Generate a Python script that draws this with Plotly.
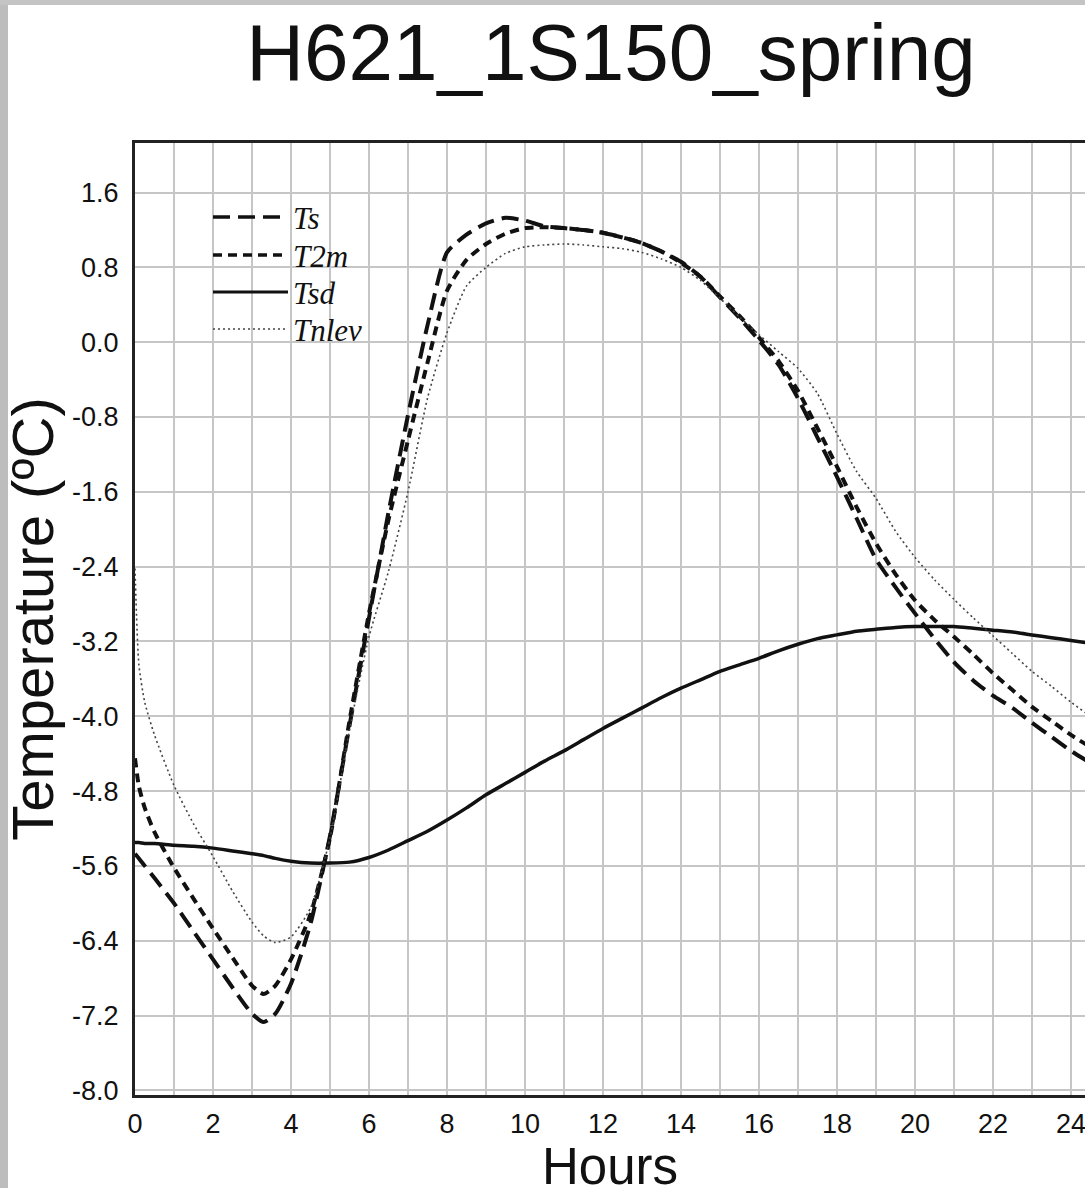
import plotly.graph_objects as go

# Hour of day for every sample
hours = [0, 0.1, 0.25, 0.5, 1, 1.5, 2, 2.5, 3, 3.3, 3.6, 4, 4.5, 5, 5.5, 6, 6.5, 7, 7.5, 8,
         8.5, 9, 9.5, 10, 10.5, 11, 11.5, 12, 12.5, 13, 13.5, 14, 14.5, 15, 15.5, 16, 16.5,
         17, 17.5, 18, 18.5, 19, 19.5, 20, 20.5, 21, 21.5, 22, 22.5, 23, 23.5, 24, 24.5]

# Surface temperature (degC)
ts = [-5.47, -5.52, -5.60, -5.73, -6.00, -6.30, -6.60, -6.90, -7.18, -7.27, -7.18, -6.86,
      -6.22, -5.28, -4.10, -2.95, -1.82, -0.78, 0.18, 0.96, 1.15, 1.27, 1.33, 1.30, 1.24,
      1.22, 1.20, 1.17, 1.12, 1.06, 0.97, 0.86, 0.70, 0.48, 0.26, 0.02, -0.24, -0.60, -1.02,
      -1.44, -1.88, -2.32, -2.62, -2.90, -3.17, -3.42, -3.62, -3.78, -3.91, -4.07, -4.22,
      -4.37, -4.50]

# 2 m air temperature (degC)
t2m = [-4.45, -4.75, -4.98, -5.24, -5.62, -5.95, -6.27, -6.58, -6.88, -6.97, -6.88, -6.60,
       -6.12, -5.30, -4.05, -2.90, -1.90, -1.05, -0.22, 0.55, 0.88, 1.05, 1.16, 1.22, 1.23,
       1.22, 1.20, 1.17, 1.12, 1.06, 0.97, 0.85, 0.70, 0.49, 0.28, 0.05, -0.20, -0.52, -0.92,
       -1.33, -1.76, -2.15, -2.48, -2.76, -2.97, -3.15, -3.34, -3.54, -3.72, -3.90, -4.05,
       -4.20, -4.33]

# Deep soil temperature (degC)
tsd = [-5.35, -5.35, -5.36, -5.36, -5.38, -5.39, -5.41, -5.44, -5.47, -5.49, -5.52, -5.55,
       -5.57, -5.57, -5.56, -5.51, -5.43, -5.33, -5.23, -5.11, -4.98, -4.84, -4.72, -4.60,
       -4.48, -4.37, -4.25, -4.13, -4.02, -3.91, -3.80, -3.70, -3.61, -3.52, -3.45, -3.38,
       -3.30, -3.23, -3.17, -3.13, -3.09, -3.07, -3.05, -3.04, -3.04, -3.04, -3.06, -3.08,
       -3.10, -3.13, -3.16, -3.19, -3.22]

# Lowest model level temperature (degC)
tnlev = [-2.42, -3.45, -3.85, -4.20, -4.74, -5.15, -5.50, -5.87, -6.20, -6.35, -6.42, -6.36,
         -6.05, -5.30, -4.15, -3.15, -2.45, -1.60, -0.60, 0.10, 0.60, 0.80, 0.95, 1.02, 1.04,
         1.05, 1.04, 1.02, 1.00, 0.96, 0.89, 0.80, 0.66, 0.47, 0.27, 0.08, -0.10, -0.28, -0.55,
         -0.98, -1.38, -1.67, -2.02, -2.30, -2.54, -2.75, -2.95, -3.14, -3.33, -3.52, -3.68,
         -3.85, -4.00]

x_ticks = list(range(0, 25, 2))
y_ticks = [-8.0, -7.2, -6.4, -5.6, -4.8, -4.0, -3.2, -2.4, -1.6, -0.8, 0.0, 0.8, 1.6]
y_tick_labels = [f"{v:.1f}" for v in y_ticks]

series = [
    ("Ts", ts, dict(color="#111111", width=4, dash="17px,8px")),
    ("T2m", t2m, dict(color="#111111", width=4, dash="9px,6px")),
    ("Tsd", tsd, dict(color="#111111", width=3.5)),
    ("Tnlev", tnlev, dict(color="#444444", width=1.6, dash="2px,3px")),
]

W, H = 1085, 1188
L, R, T, B = 135, 0, 143, 93
PW, PH = W - L - R, H - T - B


def px_x(px):
    return (px - L) / PW


def px_y(py):
    return (H - B - py) / PH


fig = go.Figure()
for name, vals, style in series:
    fig.add_trace(go.Scatter(
        x=hours, y=vals, name=name, mode="lines",
        line=dict(shape="spline", smoothing=0.6, **style),
        showlegend=False,
    ))

# Hand-drawn legend with long line samples
shapes = []
annotations = []
legend_rows = [217, 255, 292, 329]
for (name, _, style), row in zip(series, legend_rows):
    shapes.append(dict(
        type="line", xref="paper", yref="paper",
        x0=px_x(213), x1=px_x(288), y0=px_y(row), y1=px_y(row),
        line=dict(color=style["color"], width=style["width"] * 0.85,
                  dash=style.get("dash", "solid")),
    ))
    annotations.append(dict(
        xref="paper", yref="paper", x=px_x(291), y=px_y(row + 1),
        xanchor="left", yanchor="middle", showarrow=False,
        text=f"<i>{name}</i>",
        font=dict(family="Liberation Serif, Times New Roman, serif", size=31, color="#111111"),
    ))

# x-axis title, sitting low against the bottom edge of the page
annotations.append(dict(
    xref="paper", yref="paper", x=0.5, y=px_y(1166),
    xanchor="center", yanchor="middle", showarrow=False,
    text="Hours", font=dict(size=51, color="#111111"),
))

# Grey page edge along the left and top borders
shapes.append(dict(type="rect", xref="paper", yref="paper", layer="below",
                   x0=px_x(0), x1=px_x(8), y0=px_y(H), y1=px_y(0),
                   fillcolor="#bdbdbd", line=dict(width=0)))
shapes.append(dict(type="rect", xref="paper", yref="paper", layer="below",
                   x0=px_x(0), x1=px_x(W), y0=px_y(5), y1=px_y(0),
                   fillcolor="#c4c4c4", line=dict(width=0)))

grid = "#c6c6c6"
fig.update_layout(
    width=W, height=H,
    margin=dict(l=L, r=R, t=T, b=B, autoexpand=False),
    paper_bgcolor="white", plot_bgcolor="white",
    font=dict(family="Liberation Sans, Arial, Helvetica, sans-serif", color="#111111"),
    title=dict(text="H621_1S150_spring", xref="container", yref="container",
               x=611 / W, xanchor="center", y=1 - 52 / H, yanchor="middle",
               font=dict(size=80, color="#111111")),
    xaxis=dict(
        range=[0, 24.36], tickmode="array", tickvals=x_ticks,
        ticktext=[str(v) for v in x_ticks], ticklabeloverflow="allow",
        showgrid=True, gridcolor=grid, gridwidth=1.6,
        minor=dict(dtick=1, tick0=0, showgrid=True, gridcolor=grid, gridwidth=1.6),
        showline=True, linecolor="#222222", linewidth=3, mirror=True,
        zeroline=False, ticks="", tickfont=dict(size=27), ticklabelstandoff=3,
    ),
    yaxis=dict(
        range=[-8.05, 2.13], tickmode="array", tickvals=y_ticks, ticktext=y_tick_labels,
        showgrid=True, gridcolor=grid, gridwidth=1.6,
        showline=True, linecolor="#222222", linewidth=3, mirror=False,
        zeroline=False, ticks="", tickfont=dict(size=27), ticklabelstandoff=8,
        title=dict(text="Temperature (ºC)", font=dict(size=58), standoff=2),
    ),
    shapes=shapes,
    annotations=annotations,
)

fig.write_html("out.html")
